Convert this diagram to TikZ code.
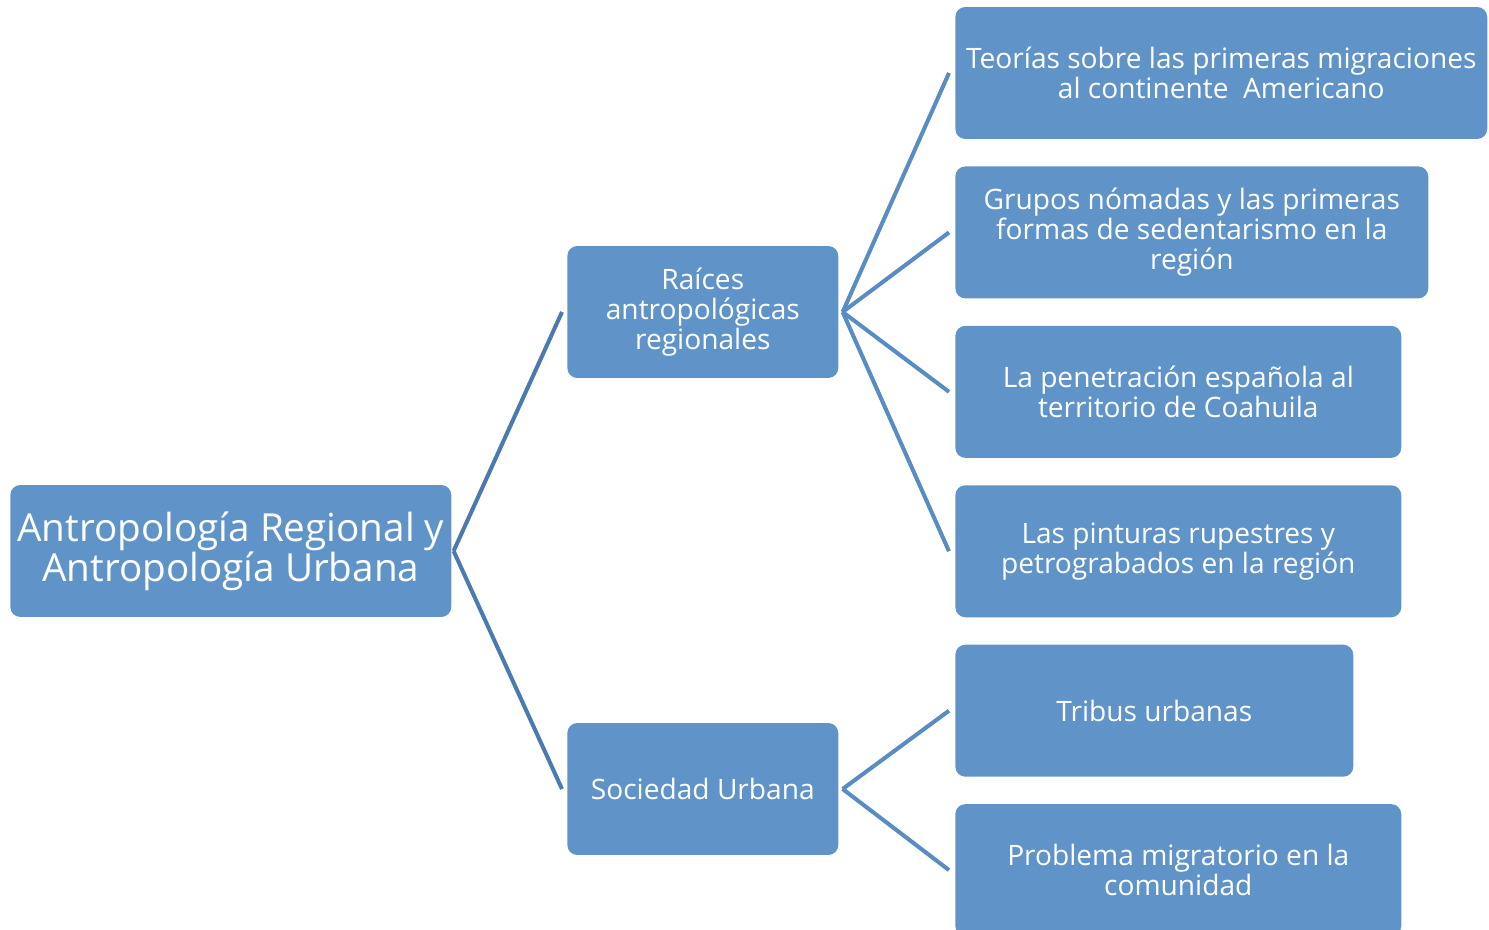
\documentclass[tikz,border=0pt]{standalone}
\usepackage{fontspec}
\setmainfont{Open Sans}
\usepackage{xcolor}
\usepackage{tikz}
\usetikzlibrary{positioning}
\definecolor{boxblue}{HTML}{6094C8}
\definecolor{rootline}{HTML}{4A7AAF}
\definecolor{leafline}{HTML}{5A8CC4}
\tikzset{
  topicbox/.style={draw=none, fill=boxblue, rounded corners=0.2cm, text=white, align=center, minimum height=2.64cm, inner sep=0pt, font=\fontsize{16}{17.1}\selectfont},
  rootlink/.style={draw=rootline, line width=2.3pt},
  leaflink/.style={draw=leafline, line width=2.3pt}
}
\begin{document}
\begin{tikzpicture}[x=0.02cm, y=-0.02cm]
    \useasboundingbox (0,0) rectangle (1489,930);
    % main topic and its two branches
    \node[topicbox, minimum width=8.82cm, anchor=west, font=\fontsize{22}{22.8}\selectfont] (root) at (10,551) {Antropología Regional y\\Antropología Urbana};
    \node[topicbox, minimum width=5.42cm, anchor=west] (raices) at (567,312) {Raíces\\antropológicas\\regionales};
    \node[topicbox, minimum width=5.42cm, anchor=west] (sociedad) at (567,789) {Sociedad Urbana};
    % right column
    \node[topicbox, minimum width=10.64cm, anchor=west] (teorias) at (955,73) {Teorías sobre las primeras migraciones\\al continente\ \ Americano};
    \node[topicbox, minimum width=9.46cm, below=0.535cm of teorias.south west, anchor=north west] (grupos) {Grupos nómadas y las primeras\\formas de sedentarismo en la\\región};
    \node[topicbox, minimum width=8.92cm, below=0.535cm of grupos.south west, anchor=north west] (penetracion) {La penetración española al\\territorio de Coahuila};
    \node[topicbox, minimum width=8.92cm, below=0.535cm of penetracion.south west, anchor=north west] (pinturas) {Las pinturas rupestres y\\petrograbados en la región};
    \node[topicbox, minimum width=7.96cm, below=0.535cm of pinturas.south west, anchor=north west] (tribus) {Tribus urbanas};
    \node[topicbox, minimum width=8.92cm, below=0.535cm of tribus.south west, anchor=north west] (problema) {Problema migratorio en la\\comunidad};
    % connectors
    \draw[rootlink] ([xshift=0.04cm]root.east) -- ([xshift=-0.1cm]raices.west);
    \draw[rootlink] ([xshift=0.04cm]root.east) -- ([xshift=-0.1cm]sociedad.west);
    \foreach \leaf in {teorias,grupos,penetracion,pinturas}
        \draw[leaflink] ([xshift=0.08cm]raices.east) -- ([xshift=-0.12cm]\leaf.west);
    \foreach \leaf in {tribus,problema}
        \draw[leaflink] ([xshift=0.08cm]sociedad.east) -- ([xshift=-0.12cm]\leaf.west);
\end{tikzpicture}
\end{document}
